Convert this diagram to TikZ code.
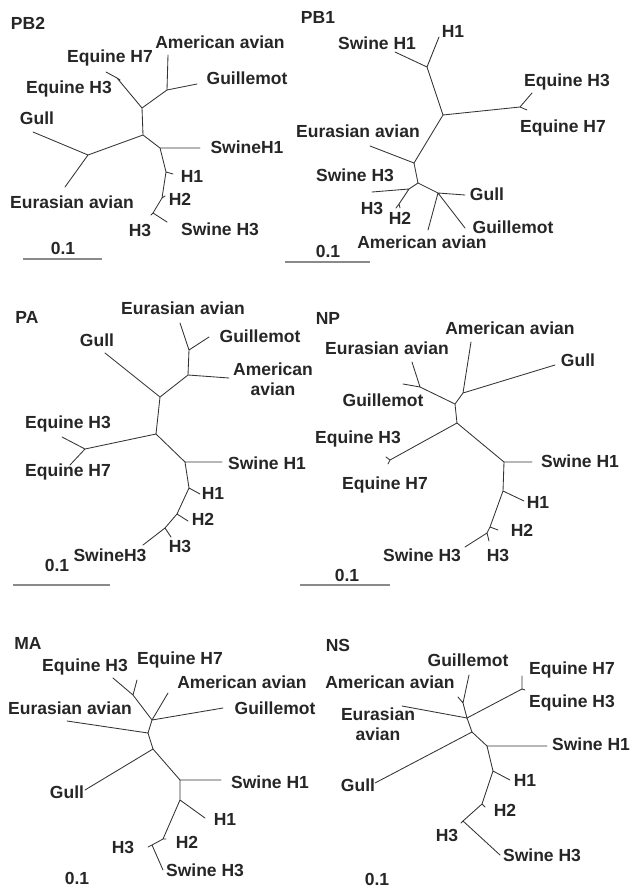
\documentclass[tikz,border=0pt]{standalone}
\usepackage{fontspec}
\setmainfont{Liberation Sans}
\definecolor{treeline}{HTML}{333333}
\definecolor{treetext}{HTML}{262626}
\definecolor{bargrey}{HTML}{8A8A8A}
\tikzset{
	branch/.style={treeline, line width=0.85pt, line cap=round},
	taxon/.style={treetext, inner sep=0pt, font=\fontsize{17.5}{19.5}\selectfont\bfseries, align=center},
	panel/.style={taxon},
	scalebar/.style={bargrey, line width=1.2pt}
}
\begin{document}
\begin{tikzpicture}[x=1pt, y=-1pt]
			\useasboundingbox (0,0) rectangle (632,889);

			\node (pb2) [panel] at (28,23) {PB2};
			\coordinate (pb2-a) at (142,108);
			\coordinate (pb2-b) at (143,135);
			\coordinate (pb2-am) at (167,90);
			\coordinate (pb2-eq) at (117,78);
			\coordinate (pb2-ge) at (88,155);
			\coordinate (pb2-d) at (160,148);
			\coordinate (pb2-e) at (166,172);
			\coordinate (pb2-f) at (162,198);
			\coordinate (pb2-g) at (153,213);
			\coordinate (pb2-amav) at (168,55);
			\coordinate (pb2-guil) at (197,84);
			\coordinate (pb2-eqh7) at (106,72);
			\coordinate (pb2-eqh3) at (120,80);
			\coordinate (pb2-gull) at (33,132);
			\coordinate (pb2-eura) at (65,187);
			\coordinate (pb2-swh1) at (200,148);
			\coordinate (pb2-h1) at (173,174);
			\coordinate (pb2-h2) at (165,196);
			\coordinate (pb2-h3) at (151,215);
			\coordinate (pb2-swh3) at (167,222);
			\draw[branch]
			(pb2-a) -- (pb2-b)
			(pb2-a) -- (pb2-am) -- (pb2-amav)
			(pb2-am) -- (pb2-guil)
			(pb2-a) -- (pb2-eq) -- (pb2-eqh7)
			(pb2-eq) -- (pb2-eqh3)
			(pb2-b) -- (pb2-ge) -- (pb2-gull)
			(pb2-ge) -- (pb2-eura)
			(pb2-b) -- (pb2-d) -- (pb2-swh1)
			(pb2-d) -- (pb2-e) -- (pb2-h1)
			(pb2-e) -- (pb2-f) -- (pb2-h2)
			(pb2-f) -- (pb2-g) -- (pb2-h3)
			(pb2-g) -- (pb2-swh3);
			\node (pb2-lamav) [taxon] at (220,42) {American avian};
			\node (pb2-leqh7) [taxon] at (110,58) {Equine H7};
			\node (pb2-lguil) [taxon] at (247,78) {Guillemot};
			\node (pb2-leqh3) [taxon] at (69,89) {Equine H3};
			\node (pb2-lgull) [taxon] at (37,118) {Gull};
			\node (pb2-lswh1) [taxon] at (247,147) {SwineH1};
			\node (pb2-lh1) [taxon] at (192,176) {H1};
			\node (pb2-lh2) [taxon] at (180,199) {H2};
			\node (pb2-leura) [taxon] at (72,202) {Eurasian avian};
			\node (pb2-lswh3) [taxon] at (220,229) {Swine H3};
			\node (pb2-lh3) [taxon] at (140,230) {H3};
			\node (pb2-scale) [taxon] at (63,248) {0.1};
			\coordinate (pb2-bl) at (23,259);
			\coordinate (pb2-br) at (102,259);
			\draw[scalebar] (pb2-bl) -- (pb2-br);



			\node (pb1) [panel] at (318,17) {PB1};
			\coordinate (pb1-a) at (427,67);
			\coordinate (pb1-b) at (443,115);
			\coordinate (pb1-eq) at (520,107);
			\coordinate (pb1-c) at (414,163);
			\coordinate (pb1-d) at (418,183);
			\coordinate (pb1-e) at (409,189);
			\coordinate (pb1-k) at (399,204);
			\coordinate (pb1-f) at (438,193);
			\coordinate (pb1-h1) at (439,37);
			\coordinate (pb1-swh1) at (395,52);
			\coordinate (pb1-eqh3) at (532,93);
			\coordinate (pb1-eqh7) at (527,110);
			\coordinate (pb1-eura) at (370,146);
			\coordinate (pb1-swh3) at (372,192);
			\coordinate (pb1-h3) at (396,208);
			\coordinate (pb1-h2) at (400,208);
			\coordinate (pb1-gull) at (465,195);
			\coordinate (pb1-guil) at (465,228);
			\coordinate (pb1-amav) at (428,230);
			\draw[branch]
			(pb1-a) -- (pb1-h1)
			(pb1-a) -- (pb1-swh1)
			(pb1-a) -- (pb1-b) -- (pb1-eq) -- (pb1-eqh3)
			(pb1-eq) -- (pb1-eqh7)
			(pb1-b) -- (pb1-c) -- (pb1-eura)
			(pb1-c) -- (pb1-d) -- (pb1-e) -- (pb1-swh3)
			(pb1-e) -- (pb1-k) -- (pb1-h3)
			(pb1-k) -- (pb1-h2)
			(pb1-d) -- (pb1-f) -- (pb1-gull)
			(pb1-f) -- (pb1-guil)
			(pb1-f) -- (pb1-amav);
			\node (pb1-lh1) [taxon] at (453,31) {H1};
			\node (pb1-lswh1) [taxon] at (377,43) {Swine H1};
			\node (pb1-leqh3) [taxon] at (567,82) {Equine H3};
			\node (pb1-leqh7) [taxon] at (563,128) {Equine H7};
			\node (pb1-leura) [taxon] at (358,131) {Eurasian avian};
			\node (pb1-lswh3) [taxon] at (355,175) {Swine H3};
			\node (pb1-lgull) [taxon] at (487,194) {Gull};
			\node (pb1-lh3) [taxon] at (372,208) {H3};
			\node (pb1-lh2) [taxon] at (400,218) {H2};
			\node (pb1-lguil) [taxon] at (513,227) {Guillemot};
			\node (pb1-lamav) [taxon] at (422,242) {American avian};
			\node (pb1-scale) [taxon] at (328,251) {0.1};
			\coordinate (pb1-bl) at (285,262);
			\coordinate (pb1-br) at (370,262);
			\draw[scalebar] (pb1-bl) -- (pb1-br);



			\node (pa) [panel] at (27,317) {PA};
			\coordinate (pa-a) at (160,397);
			\coordinate (pa-b) at (188,375);
			\coordinate (pa-c) at (189,350);
			\coordinate (pa-d) at (156,434);
			\coordinate (pa-eq) at (85,449);
			\coordinate (pa-e) at (185,462);
			\coordinate (pa-f) at (189,488);
			\coordinate (pa-g) at (177,514);
			\coordinate (pa-h) at (165,528);
			\coordinate (pa-gull) at (105,353);
			\coordinate (pa-amav) at (229,378);
			\coordinate (pa-eura) at (180,323);
			\coordinate (pa-guil) at (209,337);
			\coordinate (pa-eqh3) at (62,437);
			\coordinate (pa-eqh7) at (70,465);
			\coordinate (pa-swh1) at (222,462);
			\coordinate (pa-h1) at (200,494);
			\coordinate (pa-h2) at (188,521);
			\coordinate (pa-h3) at (171,537);
			\coordinate (pa-swh3) at (143,545);
			\draw[branch]
			(pa-a) -- (pa-gull)
			(pa-a) -- (pa-b) -- (pa-amav)
			(pa-b) -- (pa-c) -- (pa-eura)
			(pa-c) -- (pa-guil)
			(pa-a) -- (pa-d) -- (pa-eq) -- (pa-eqh3)
			(pa-eq) -- (pa-eqh7)
			(pa-d) -- (pa-e) -- (pa-swh1)
			(pa-e) -- (pa-f) -- (pa-h1)
			(pa-f) -- (pa-g) -- (pa-h2)
			(pa-g) -- (pa-h) -- (pa-h3)
			(pa-h) -- (pa-swh3);
			\node (pa-leura) [taxon] at (183,308) {Eurasian avian};
			\node (pa-lgull) [taxon] at (97,340) {Gull};
			\node (pa-lguil) [taxon] at (260,336) {Guillemot};
			\node (pa-lamav) [taxon] at (273,379) {American\\avian};
			\node (pa-leqh3) [taxon] at (68,424) {Equine H3};
			\node (pa-leqh7) [taxon] at (68,472) {Equine H7};
			\node (pa-lswh1) [taxon] at (267,463) {Swine H1};
			\node (pa-lh1) [taxon] at (213,493) {H1};
			\node (pa-lh2) [taxon] at (203,519) {H2};
			\node (pa-lh3) [taxon] at (180,546) {H3};
			\node (pa-lswh3) [taxon] at (110,555) {SwineH3};
			\node (pa-scale) [taxon] at (57,565) {0.1};
			\coordinate (pa-bl) at (13,585);
			\coordinate (pa-br) at (110,585);
			\draw[scalebar] (pa-bl) -- (pa-br);



			\node (np) [panel] at (328,318) {NP};
			\coordinate (np-a) at (455,404);
			\coordinate (np-b) at (420,387);
			\coordinate (np-c) at (463,393);
			\coordinate (np-d) at (457,423);
			\coordinate (np-eq) at (390,460);
			\coordinate (np-e) at (504,462);
			\coordinate (np-f) at (503,491);
			\coordinate (np-g) at (490,527);
			\coordinate (np-h) at (487,533);
			\coordinate (np-eura) at (412,362);
			\coordinate (np-guil) at (403,384);
			\coordinate (np-amav) at (471,342);
			\coordinate (np-gull) at (555,365);
			\coordinate (np-eqh3) at (386,457);
			\coordinate (np-eqh7) at (388,464);
			\coordinate (np-swh1) at (532,462);
			\coordinate (np-h1) at (524,501);
			\coordinate (np-h2) at (498,530);
			\coordinate (np-h3) at (489,541);
			\coordinate (np-swh3) at (465,547);
			\draw[branch]
			(np-a) -- (np-b) -- (np-eura)
			(np-b) -- (np-guil)
			(np-a) -- (np-c) -- (np-amav)
			(np-c) -- (np-gull)
			(np-a) -- (np-d) -- (np-eq) -- (np-eqh3)
			(np-eq) -- (np-eqh7)
			(np-d) -- (np-e) -- (np-swh1)
			(np-e) -- (np-f) -- (np-h1)
			(np-f) -- (np-g) -- (np-h2)
			(np-g) -- (np-h) -- (np-h3)
			(np-h) -- (np-swh3);
			\node (np-lamav) [taxon] at (510,328) {American avian};
			\node (np-leura) [taxon] at (387,348) {Eurasian avian};
			\node (np-lgull) [taxon] at (578,360) {Gull};
			\node (np-lguil) [taxon] at (383,400) {Guillemot};
			\node (np-leqh3) [taxon] at (358,439) {Equine H3};
			\node (np-lswh1) [taxon] at (580,461) {Swine H1};
			\node (np-leqh7) [taxon] at (385,485) {Equine H7};
			\node (np-lh1) [taxon] at (538,502) {H1};
			\node (np-lh2) [taxon] at (522,530) {H2};
			\node (np-lswh3) [taxon] at (422,555) {Swine H3};
			\node (np-lh3) [taxon] at (498,555) {H3};
			\node (np-scale) [taxon] at (347,575) {0.1};
			\coordinate (np-bl) at (300,585);
			\coordinate (np-br) at (390,585);
			\draw[scalebar] (np-bl) -- (np-br);



			\node (ma) [panel] at (28,643) {MA};
			\coordinate (ma-a) at (152,720);
			\coordinate (ma-b) at (133,695);
			\coordinate (ma-c) at (148,733);
			\coordinate (ma-d) at (153,749);
			\coordinate (ma-e) at (180,780);
			\coordinate (ma-f) at (180,800);
			\coordinate (ma-g) at (163,839);
			\coordinate (ma-h) at (152,845);
			\coordinate (ma-eqh3) at (113,678);
			\coordinate (ma-eqh7) at (137,680);
			\coordinate (ma-amav) at (168,693);
			\coordinate (ma-guil) at (223,708);
			\coordinate (ma-eura) at (67,721);
			\coordinate (ma-gull) at (85,790);
			\coordinate (ma-swh1) at (221,780);
			\coordinate (ma-h1) at (205,818);
			\coordinate (ma-h2) at (166,839);
			\coordinate (ma-h3) at (148,847);
			\coordinate (ma-swh3) at (163,870);
			\draw[branch]
			(ma-a) -- (ma-b) -- (ma-eqh3)
			(ma-b) -- (ma-eqh7)
			(ma-a) -- (ma-amav)
			(ma-a) -- (ma-guil)
			(ma-a) -- (ma-c) -- (ma-eura)
			(ma-c) -- (ma-d) -- (ma-gull)
			(ma-d) -- (ma-e) -- (ma-swh1)
			(ma-e) -- (ma-f) -- (ma-h1)
			(ma-f) -- (ma-g) -- (ma-h2)
			(ma-g) -- (ma-h) -- (ma-h3)
			(ma-h) -- (ma-swh3);
			\node (ma-leqh3) [taxon] at (85,667) {Equine H3};
			\node (ma-leqh7) [taxon] at (180,660) {Equine H7};
			\node (ma-lamav) [taxon] at (242,682) {American avian};
			\node (ma-leura) [taxon] at (70,708) {Eurasian avian};
			\node (ma-lguil) [taxon] at (275,708) {Guillemot};
			\node (ma-lswh1) [taxon] at (270,782) {Swine H1};
			\node (ma-lgull) [taxon] at (67,792) {Gull};
			\node (ma-lh1) [taxon] at (225,819) {H1};
			\node (ma-lh2) [taxon] at (187,842) {H2};
			\node (ma-lh3) [taxon] at (123,847) {H3};
			\node (ma-lswh3) [taxon] at (205,870) {Swine H3};
			\node (ma-scale) [taxon] at (77,878) {0.1};



			\node (ns) [panel] at (338,645) {NS};
			\coordinate (ns-a) at (467,718);
			\coordinate (ns-b) at (463,703);
			\coordinate (ns-c) at (522,689);
			\coordinate (ns-d) at (472,732);
			\coordinate (ns-e) at (487,746);
			\coordinate (ns-f) at (493,771);
			\coordinate (ns-g) at (482,804);
			\coordinate (ns-h) at (463,821);
			\coordinate (ns-guil) at (469,675);
			\coordinate (ns-amav) at (458,697);
			\coordinate (ns-eura) at (402,706);
			\coordinate (ns-eqh7) at (522,676);
			\coordinate (ns-eqh3) at (525,690);
			\coordinate (ns-gull) at (375,783);
			\coordinate (ns-swh1) at (547,746);
			\coordinate (ns-h1) at (510,780);
			\coordinate (ns-h2) at (485,807);
			\coordinate (ns-h3) at (461,823);
			\coordinate (ns-swh3) at (500,855);
			\draw[branch]
			(ns-a) -- (ns-b) -- (ns-guil)
			(ns-b) -- (ns-amav)
			(ns-a) -- (ns-eura)
			(ns-a) -- (ns-c) -- (ns-eqh7)
			(ns-c) -- (ns-eqh3)
			(ns-a) -- (ns-d) -- (ns-gull)
			(ns-d) -- (ns-e) -- (ns-swh1)
			(ns-e) -- (ns-f) -- (ns-h1)
			(ns-f) -- (ns-g) -- (ns-h2)
			(ns-g) -- (ns-h) -- (ns-h3)
			(ns-h) -- (ns-swh3);
			\node (ns-lguil) [taxon] at (468,660) {Guillemot};
			\node (ns-leqh7) [taxon] at (572,670) {Equine H7};
			\node (ns-lamav) [taxon] at (390,682) {American avian};
			\node (ns-leqh3) [taxon] at (572,703) {Equine H3};
			\node (ns-leura) [taxon] at (378,724) {Eurasian\\avian};
			\node (ns-lswh1) [taxon] at (591,744) {Swine H1};
			\node (ns-lgull) [taxon] at (358,785) {Gull};
			\node (ns-lh1) [taxon] at (525,780) {H1};
			\node (ns-lh2) [taxon] at (505,810) {H2};
			\node (ns-lh3) [taxon] at (447,835) {H3};
			\node (ns-lswh3) [taxon] at (542,855) {Swine H3};
			\node (ns-scale) [taxon] at (377,879) {0.1};
\end{tikzpicture}
\end{document}
